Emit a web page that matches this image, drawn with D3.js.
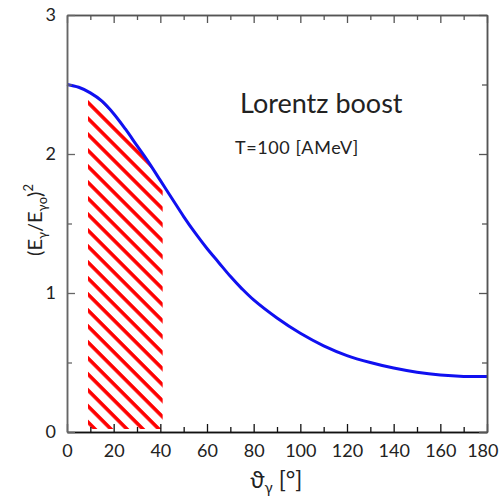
<!DOCTYPE html>
<html>
<head>
<meta charset="utf-8">
<script src="https://cdn.jsdelivr.net/npm/d3@7"></script>
<style>
  body { margin: 0; background: #fff; }
  svg text { font-family: Lato, "DejaVu Sans", sans-serif; fill: #222; }
</style>
</head>
<body>
<div id="chart"></div>
<script>
// emission angle in degrees and the squared energy ratio
const angles  = [0, 5, 10, 15, 20, 25, 30, 35, 40, 45, 50, 55, 60, 65, 70, 75, 80, 90, 100, 110, 120, 130, 140, 150, 160, 170, 180];
const ratioSq = [2.50, 2.48, 2.44, 2.38, 2.29, 2.18, 2.06, 1.94, 1.81, 1.68, 1.55, 1.43, 1.32, 1.22, 1.12, 1.03, 0.95, 0.82, 0.71, 0.62, 0.55, 0.50, 0.46, 0.43, 0.41, 0.40, 0.40];

// angular window of the hatched (detector) region
const hatchRange = [9, 41];

const xMajor = [0, 20, 40, 60, 80, 100, 120, 140, 160, 180];
const xMinor = [10, 30, 50, 70, 90, 110, 130, 150, 170];
const yMajor = [0, 1, 2, 3];
const yMinor = [0.5, 1.5, 2.5];

const title    = 'Lorentz boost';
const subtitle = 'T=100 [AMeV]';

const width  = 499,
      height = 500,
      margin = {top: 15, right: 12, bottom: 68, left: 67},
      innerW = width - margin.left - margin.right,
      innerH = height - margin.top - margin.bottom;

const data = angles.map((a, i) => ({a: a, v: ratioSq[i]}));

const svg = d3.select('#chart')
    .append('svg')
      .attr('width', width)
      .attr('height', height);

const g = svg.append('g')
    .attr('transform', `translate(${margin.left}, ${margin.top})`);

const x = d3.scaleLinear().domain([0, 180]).range([0, innerW]);
const y = d3.scaleLinear().domain([0, 3]).range([innerH, 0]);

// hatch pattern: red diagonal stripes
const defs = svg.append('defs');
const pat = defs.append('pattern')
    .attr('id', 'hatch')
    .attr('patternUnits', 'userSpaceOnUse')
    .attr('width', 11.3)
    .attr('height', 11.3)
    .attr('patternTransform', 'rotate(45)');
pat.append('rect')
    .attr('width', 11.3).attr('height', 11.3)
    .attr('fill', '#fff');
pat.append('rect')
    .attr('y', 0)
    .attr('width', 11.3).attr('height', 3.6)
    .attr('fill', '#ff0000');

defs.append('clipPath')
    .attr('id', 'hatch-clip')
  .append('rect')
    .attr('x', x(hatchRange[0]))
    .attr('width', x(hatchRange[1]) - x(hatchRange[0]))
    .attr('y', 0)
    .attr('height', innerH - 3);

const area = d3.area()
    .x(d => x(d.a))
    .y0(y(0))
    .y1(d => y(d.v) + 1.5)
    .curve(d3.curveCatmullRom.alpha(0.5));

g.append('path')
    .datum(data)
    .attr('d', area)
    .attr('fill', 'url(#hatch)')
    .attr('clip-path', 'url(#hatch-clip)');

// curve
const line = d3.line()
    .x(d => x(d.a))
    .y(d => y(d.v))
    .curve(d3.curveCatmullRom.alpha(0.5));

g.append('path')
    .datum(data)
    .attr('d', line)
    .attr('fill', 'none')
    .attr('stroke', '#1010f0')
    .attr('stroke-width', 3);

// axes, ticks point inwards
const styleAxis = (sel, col) => {
    sel.select('.domain').attr('stroke', col).attr('stroke-width', 1.5);
    sel.selectAll('.tick line').attr('stroke', col).attr('stroke-width', 1.3);
    sel.selectAll('.tick text').style('font-size', '18px');
};

g.append('g')
    .attr('transform', `translate(0, ${innerH})`)
    .call(d3.axisBottom(x).tickValues(xMajor).tickSizeInner(-8).tickSizeOuter(0).tickPadding(12))
    .call(s => styleAxis(s, '#111'));
g.append('g')
    .attr('transform', `translate(0, ${innerH})`)
    .call(d3.axisBottom(x).tickValues(xMinor).tickSizeInner(-5).tickSizeOuter(0).tickFormat(''))
    .call(s => styleAxis(s, '#111'));

g.append('g')
    .call(d3.axisTop(x).tickValues(xMajor).tickSizeInner(-8).tickSizeOuter(0).tickFormat(''))
    .call(s => styleAxis(s, '#555'));
g.append('g')
    .call(d3.axisTop(x).tickValues(xMinor).tickSizeInner(-5).tickSizeOuter(0).tickFormat(''))
    .call(s => styleAxis(s, '#555'));

g.append('g')
    .call(d3.axisLeft(y).tickValues(yMajor).tickSizeInner(-8).tickSizeOuter(0).tickPadding(11).tickFormat(d3.format('d')))
    .call(s => styleAxis(s, '#666'));
g.append('g')
    .call(d3.axisLeft(y).tickValues(yMinor).tickSizeInner(-5).tickSizeOuter(0).tickFormat(''))
    .call(s => styleAxis(s, '#666'));

g.append('g')
    .attr('transform', `translate(${innerW}, 0)`)
    .call(d3.axisRight(y).tickValues(yMajor).tickSizeInner(-8).tickSizeOuter(0).tickFormat(''))
    .call(s => styleAxis(s, '#555'));
g.append('g')
    .attr('transform', `translate(${innerW}, 0)`)
    .call(d3.axisRight(y).tickValues(yMinor).tickSizeInner(-5).tickSizeOuter(0).tickFormat(''))
    .call(s => styleAxis(s, '#555'));

// last x tick label sits at the window edge: pull it in slightly
g.selectAll('.tick text')
    .filter(d => d === 180)
    .attr('text-anchor', 'end')
    .attr('x', 11);

// titles inside the plot
svg.append('text')
    .attr('x', 240)
    .attr('y', 113)
    .style('font-size', '27px')
    .text(title);

svg.append('text')
    .attr('x', 235)
    .attr('y', 154)
    .style('font-size', '18px')
    .style('letter-spacing', '0.6px')
    .text(subtitle);

// x label: theta_gamma [deg]
const xl = svg.append('text')
    .attr('x', 250)
    .attr('y', 488)
    .style('font-size', '23px');
xl.append('tspan').text('ϑ');
xl.append('tspan').attr('dy', 5).style('font-size', '15px').text('γ');
xl.append('tspan').attr('dy', -5).text(' [°]');

// y label: (E_gamma / E_gamma0)^2
const yl = svg.append('text')
    .attr('transform', 'translate(42, 220) rotate(-90)')
    .attr('text-anchor', 'middle')
    .style('font-size', '20px');
yl.append('tspan').text('(E');
yl.append('tspan').attr('dy', 5).style('font-size', '13px').text('γ');
yl.append('tspan').attr('dy', -5).text('/E');
yl.append('tspan').attr('dy', 5).style('font-size', '13px').text('γo');
yl.append('tspan').attr('dy', -5).text(')');
yl.append('tspan').attr('dy', -9).style('font-size', '13px').text('2');
</script>
</body>
</html>
